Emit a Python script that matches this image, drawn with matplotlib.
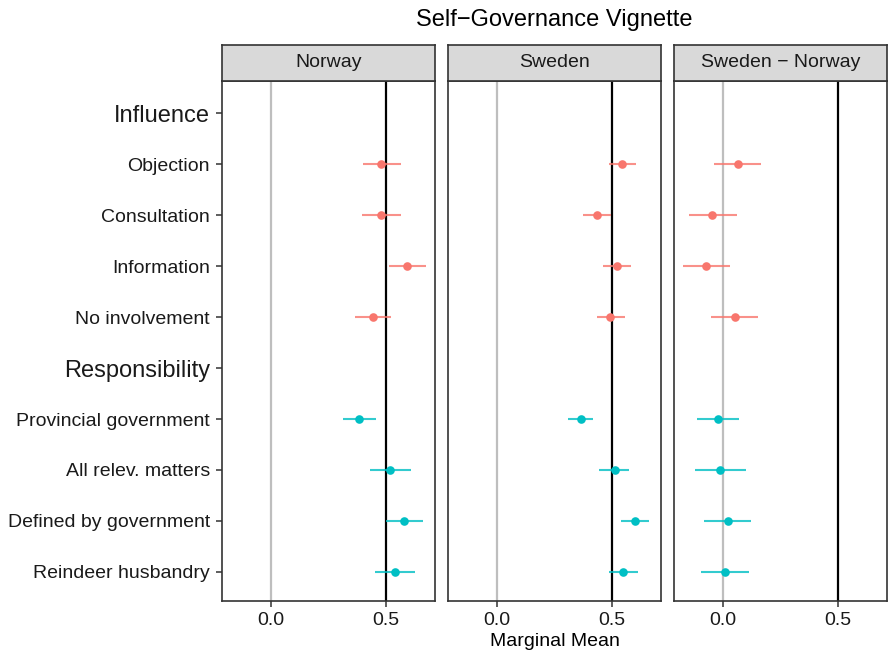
"""
Self-Governance Vignette: marginal means by country, faceted panels.
"""

import numpy as np
import matplotlib.pyplot as plt

plt.rcParams['font.family'] = ['Liberation Sans', 'DejaVu Sans']

# ─── Data (rows listed top to bottom) ───────────────────────────────
labels = ["Influence", "Objection", "Consultation", "Information",
          "No involvement", "Responsibility", "Provincial government",
          "All relev. matters", "Defined by government",
          "Reindeer husbandry"]
features = ["Influence"] * 5 + ["Responsibility"] * 5
headers = ["Influence", "Responsibility"]

nan = np.nan
norway_est = [nan, 0.481, 0.480, 0.595, 0.445, nan, 0.386, 0.521, 0.579, 0.542]
norway_lo  = [nan, 0.400, 0.397, 0.513, 0.365, nan, 0.312, 0.433, 0.503, 0.456]
norway_hi  = [nan, 0.566, 0.566, 0.677, 0.525, nan, 0.459, 0.611, 0.662, 0.628]

sweden_est = [nan, 0.547, 0.437, 0.525, 0.494, nan, 0.365, 0.513, 0.602, 0.551]
sweden_lo  = [nan, 0.487, 0.377, 0.462, 0.436, nan, 0.311, 0.447, 0.543, 0.491]
sweden_hi  = [nan, 0.607, 0.496, 0.586, 0.557, nan, 0.420, 0.578, 0.665, 0.614]

diff_est = [nan, 0.063, -0.047, -0.073, 0.050, nan, -0.022, -0.012, 0.022, 0.007]
diff_lo  = [nan, -0.039, -0.150, -0.174, -0.051, nan, -0.112, -0.121, -0.082, -0.098]
diff_hi  = [nan, 0.164, 0.060, 0.029, 0.151, nan, 0.070, 0.100, 0.123, 0.112]

panels = ["Norway", "Sweden", "Sweden \u2212 Norway"]
xticks = [0.0, 0.5]

COLORS = {"Influence": "#F8766D", "Responsibility": "#00BFC4"}
EDGE = "#333333"

W, H = 889, 654
fig = plt.figure(figsize=(W / 100, H / 100), dpi=100)

panel_lefts = [221.7, 447.7, 673.7]
panel_w = 213.5
top_px, bot_px = 81, 601
strip_top = 44.5

data = [(norway_est, norway_lo, norway_hi),
        (sweden_est, sweden_lo, sweden_hi),
        (diff_est, diff_lo, diff_hi)]

ypos = np.arange(len(labels))[::-1] + 1

for i, (name, (est, lo, hi)) in enumerate(zip(panels, data)):
    left = panel_lefts[i] / W
    ax = fig.add_axes([left, 1 - bot_px / H, panel_w / W,
                       (bot_px - top_px) / H])
    ax.axvline(0.0, color="#BEBEBE", lw=1.6, zorder=1)
    ax.axvline(0.5, color="black", lw=1.6, zorder=1)

    est = np.array(est)
    lo = np.array(lo)
    hi = np.array(hi)
    for feat in headers:
        m = np.array([f == feat for f in features]) & ~np.isnan(est)
        ax.hlines(ypos[m], lo[m], hi[m], color=COLORS[feat], lw=1.5,
                  alpha=0.8, zorder=2)
        ax.plot(est[m], ypos[m], 'o', color=COLORS[feat], ms=6.2,
                mec='none', zorder=3)

    ax.set_xlim(-0.216, 0.717)
    ax.set_ylim(0.43, 10.63)
    ax.set_xticks(xticks)
    ax.set_xticklabels([f"{t:.1f}" for t in xticks], fontsize=14,
                       color="#1a1a1a")
    ax.tick_params(axis='x', length=4, width=1.1, color=EDGE, pad=4)
    for sp in ax.spines.values():
        sp.set_color(EDGE)
        sp.set_linewidth(1.2)

    if i == 0:
        ax.set_yticks(ypos)
        ax.set_yticklabels(labels, color="#1a1a1a")
        for lab in ax.get_yticklabels():
            lab.set_fontsize(17 if lab.get_text() in headers else 14)
        ax.tick_params(axis='y', length=4, width=1.1, color=EDGE, pad=4.5)
    else:
        ax.set_yticks([])

    if i == 1:
        ax.set_xlabel("Marginal Mean", fontsize=14, labelpad=3)

    # facet strip
    sax = fig.add_axes([left, 1 - top_px / H, panel_w / W,
                        (top_px - strip_top) / H])
    sax.set_facecolor("#D9D9D9")
    sax.set_xticks([])
    sax.set_yticks([])
    for sp in sax.spines.values():
        sp.set_color(EDGE)
        sp.set_linewidth(1.2)
    sax.text(0.5, 0.5, name, ha='center', va='center', fontsize=14,
             color="#1a1a1a", transform=sax.transAxes)

fig.text((221.7 + 887.2) / 2 / W, 1 - 20 / H, "Self\u2212Governance Vignette",
         ha='center', va='center', fontsize=17)

fig.savefig("out.png", dpi=100)
